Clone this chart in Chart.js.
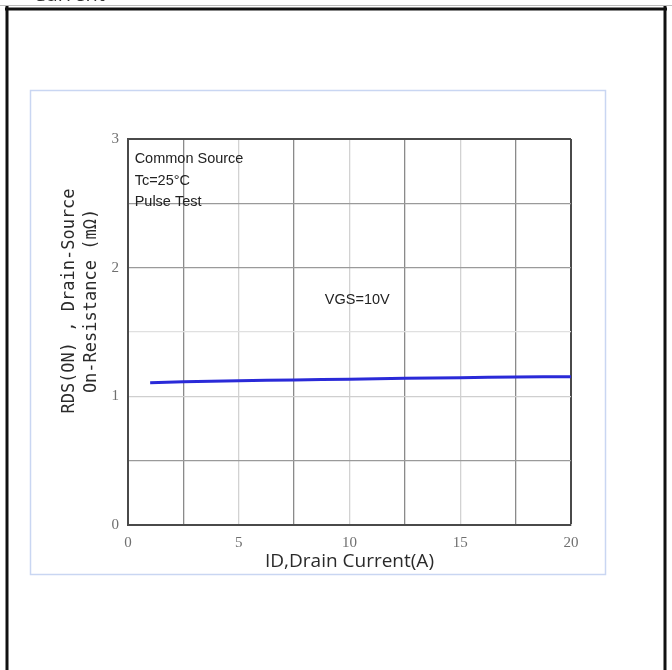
<!DOCTYPE html>
<html>
<head>
<meta charset="utf-8">
<script src="https://cdn.jsdelivr.net/npm/chart.js@4.4.1/dist/chart.umd.min.js"></script>
<style>
  html, body { margin: 0; padding: 0; background: #ffffff; }
  canvas { display: block; }
</style>
</head>
<body>
<canvas id="c" width="672" height="670"></canvas>
<script>
// Drain current (A) and on-resistance (mΩ) at VGS = 10 V
const drainCurrent = [1, 2.5, 5, 7.5, 10, 12.5, 15, 17.5, 20];
const onResistance = [1.106, 1.114, 1.121, 1.127, 1.133, 1.140, 1.145, 1.150, 1.153];

// Tick labels shown on each axis
const xTickLabels = [0, 5, 10, 15, 20];
const yTickLabels = [0, 1, 2, 3];

// Notes written inside the plot, placed in data coordinates
const noteTexts = ['Common Source', 'Tc=25°C', 'Pulse Test', 'VGS=10V'];
const noteX = [0.3, 0.3, 0.3, 10.35];
const noteY = [2.845, 2.675, 2.51, 1.75];
const noteAlign = ['left', 'left', 'left', 'center'];

const yTitleLines = ['RDS(ON) , Drain-Source', 'On-Resistance (mΩ)'];
const xTitle = 'ID,Drain Current(A)';
const pageCaption = 'Current';

const FRAME = '#4a4a4a';

// Page frame, caption and the light blue figure box
const framePlugin = {
  id: 'frame',
  beforeDraw(chart) {
    const ctx = chart.ctx;
    ctx.save();
    ctx.fillStyle = '#ffffff';
    ctx.fillRect(0, 0, chart.width, chart.height);
    ctx.font = '20px "Open Sans"';
    ctx.fillStyle = '#333333';
    ctx.textBaseline = 'alphabetic';
    ctx.fillText(pageCaption, 33, 1);
    ctx.strokeStyle = '#bbbbbb';
    ctx.lineWidth = 1;
    ctx.beginPath();
    ctx.moveTo(0, 5.5); ctx.lineTo(672, 5.5);
    ctx.stroke();
    ctx.strokeStyle = '#111111';
    ctx.lineWidth = 3;
    ctx.beginPath();
    ctx.moveTo(7, 680); ctx.lineTo(7, 6);
    ctx.moveTo(5, 9); ctx.lineTo(667, 9);
    ctx.moveTo(665, 6); ctx.lineTo(665, 680);
    ctx.stroke();
    ctx.strokeStyle = '#c9d6f2';
    ctx.lineWidth = 1.5;
    ctx.strokeRect(30.5, 90.5, 575, 484);
    ctx.restore();
  }
};

// Notes inside the plot and the two-line y-axis title
const notesPlugin = {
  id: 'notes',
  afterDatasetsDraw(chart) {
    const ctx = chart.ctx;
    const xs = chart.scales.x, ys = chart.scales.y;
    ctx.save();
    ctx.font = '14.5px "Liberation Sans"';
    ctx.fillStyle = '#222222';
    ctx.textBaseline = 'middle';
    noteTexts.forEach((t, i) => {
      ctx.textAlign = noteAlign[i];
      ctx.fillText(t, xs.getPixelForValue(noteX[i]), ys.getPixelForValue(noteY[i]));
    });
    ctx.restore();
  },
  afterDraw(chart) {
    const ctx = chart.ctx;
    ctx.save();
    ctx.translate(70, 301);
    ctx.rotate(-Math.PI / 2);
    ctx.font = '17px "DejaVu Sans Mono"';
    ctx.fillStyle = '#2a2a2a';
    ctx.textAlign = 'center';
    ctx.textBaseline = 'middle';
    yTitleLines.forEach((t, i) => ctx.fillText(t, 0, i * 22));
    ctx.restore();
  }
};

const xDark = v => Math.abs((v / 2.5) % 2 - 1) < 1e-6; // 2.5, 7.5, 12.5, 17.5

new Chart(document.getElementById('c'), {
  type: 'line',
  data: {
    datasets: [{
      data: drainCurrent.map((x, i) => ({ x, y: onResistance[i] })),
      borderColor: '#2a2ad8',
      borderWidth: 3,
      pointRadius: 0,
      tension: 0.3,
      fill: false
    }]
  },
  options: {
    responsive: false,
    animation: false,
    devicePixelRatio: 1,
    layout: { padding: { left: 50, right: 101, top: 139, bottom: 95 } },
    plugins: { legend: { display: false }, tooltip: { enabled: false } },
    scales: {
      x: {
        type: 'linear',
        min: 0, max: 20,
        afterFit(scale) { scale.height = 50; },
        ticks: {
          stepSize: 2.5,
          autoSkip: false,
          maxRotation: 0,
          padding: 9,
          color: '#6f6f6f',
          font: { family: '"Liberation Serif"', size: 15 },
          callback: v => (xTickLabels.includes(v) ? String(v) : '')
        },
        grid: {
          drawTicks: false,
          color: c => (c.tick.value === 20 ? FRAME : xDark(c.tick.value) ? '#8a8a8a' : '#d2d2d2'),
          lineWidth: c => (c.tick.value === 20 ? 2 : 1.3)
        },
        border: { color: FRAME, width: 2 },
        title: {
          display: true,
          text: xTitle,
          color: '#2a2a2a',
          font: { family: '"Open Sans"', size: 19 },
          padding: { top: 0, bottom: 2 }
        }
      },
      y: {
        type: 'linear',
        min: 0, max: 3,
        afterFit(scale) { scale.width = 78; },
        ticks: {
          stepSize: 0.5,
          autoSkip: false,
          padding: 9,
          color: '#6f6f6f',
          font: { family: '"Liberation Serif"', size: 15 },
          callback: v => (yTickLabels.includes(v) ? String(v) : '')
        },
        grid: {
          drawTicks: false,
          color: c => {
            const v = c.tick.value;
            if (v === 3) return FRAME;
            if (v === 1.5) return '#e0e0e0';
            if (v === 1) return '#cfcfcf';
            return '#9a9a9a';
          },
          lineWidth: c => (c.tick.value === 3 ? 2 : 1.3)
        },
        border: { color: FRAME, width: 2 }
      }
    }
  },
  plugins: [framePlugin, notesPlugin]
});
</script>
</body>
</html>
